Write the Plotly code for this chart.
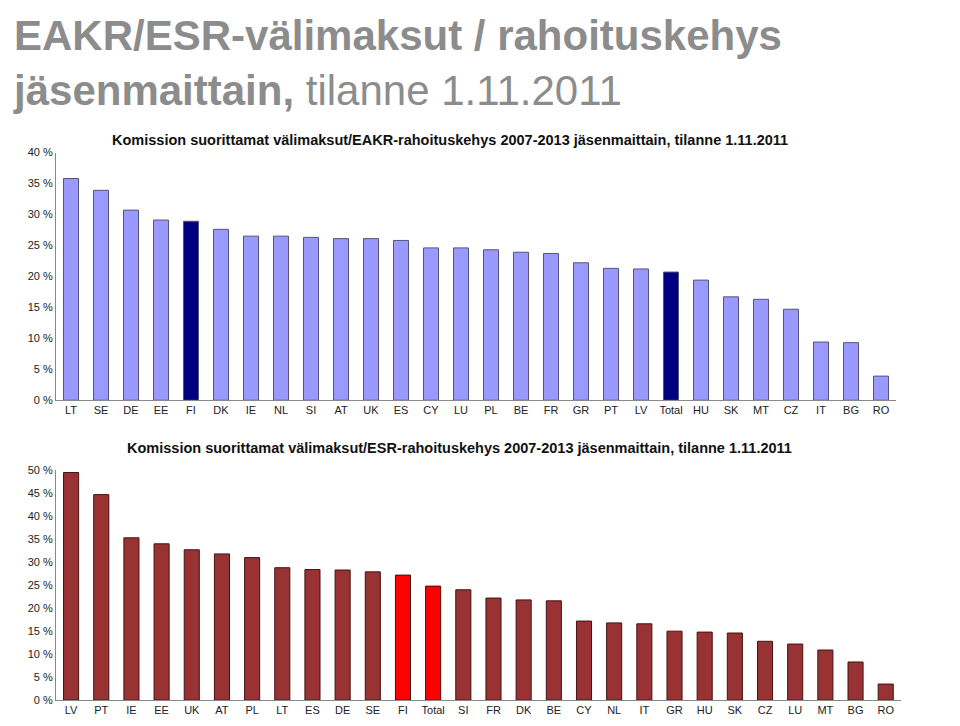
import plotly.graph_objects as go

cat1 = ["LT","SE","DE","EE","FI","DK","IE","NL","SI","AT","UK","ES","CY","LU","PL","BE","FR","GR","PT","LV","Total","HU","SK","MT","CZ","IT","BG","RO"]
val1 = [35.8,33.9,30.7,29.1,28.9,27.6,26.5,26.5,26.3,26.1,26.1,25.8,24.6,24.6,24.3,23.9,23.7,22.2,21.3,21.2,20.7,19.4,16.7,16.3,14.7,9.4,9.3,3.9]
cat2 = ["LV","PT","IE","EE","UK","AT","PL","LT","ES","DE","SE","FI","Total","SI","FR","DK","BE","CY","NL","IT","GR","HU","SK","CZ","LU","MT","BG","RO"]
val2 = [49.5,44.7,35.3,34.0,32.7,31.8,31.0,28.8,28.4,28.3,27.9,27.2,24.8,24.0,22.2,21.8,21.6,17.2,16.8,16.6,15.0,14.8,14.6,12.8,12.2,10.9,8.3,3.5]

c1 = ["#000080" if c in ("FI","Total") else "#9999ff" for c in cat1]
c2 = ["#ff0000" if c in ("FI","Total") else "#993333" for c in cat2]

fig = go.Figure()
fig.add_trace(go.Bar(x=cat1, y=val1, marker=dict(color=c1, line=dict(color="#555577", width=1)), width=0.5, xaxis="x", yaxis="y"))
fig.add_trace(go.Bar(x=cat2, y=val2, marker=dict(color=c2, line=dict(color="#441111", width=1)), width=0.5, xaxis="x2", yaxis="y2"))

ax = dict(showline=True, linecolor="#888", mirror=False, ticks="", tickfont=dict(size=11, color="#222"))
fig.update_layout(
    width=960, height=726, margin=dict(l=0, r=0, t=0, b=0), showlegend=False,
    paper_bgcolor="white", plot_bgcolor="white", font=dict(family="Liberation Sans"),
    xaxis=dict(domain=[0.05, 0.925], anchor="y", **ax),
    yaxis=dict(domain=[0.459, 0.806], range=[0, 40], dtick=5, ticksuffix=" %", showgrid=False,
               showline=True, linecolor="#888", tickfont=dict(size=11, color="#222")),
    xaxis2=dict(domain=[0.05, 0.93], anchor="y2", **ax),
    yaxis2=dict(domain=[0.039, 0.361], range=[0, 50], dtick=5, ticksuffix=" %", showgrid=False,
                showline=True, linecolor="#888", tickfont=dict(size=11, color="#222")),
)
fig.add_annotation(x=0.003, y=1.005, xref="paper", yref="paper", xanchor="left", yanchor="top", showarrow=False, align="left",
    text="<b>EAKR/ESR-välimaksut / rahoituskehys</b><br><b>jäsenmaittain,</b> tilanne 1.11.2011",
    font=dict(size=42, color="#8c8c8c", family="Liberation Sans"))
fig.add_annotation(x=0.46, y=1-118/726, xref="paper", yref="paper", showarrow=False,
    text="<b>Komission suorittamat välimaksut/EAKR-rahoituskehys 2007-2013 jäsenmaittain, tilanne 1.11.2011</b>",
    font=dict(size=14.5, color="#111"))
fig.add_annotation(x=0.47, y=1-441/726, xref="paper", yref="paper", showarrow=False,
    text="<b>Komission suorittamat välimaksut/ESR-rahoituskehys 2007-2013 jäsenmaittain, tilanne 1.11.2011</b>",
    font=dict(size=14.5, color="#111"))
fig.write_html("out.html")
